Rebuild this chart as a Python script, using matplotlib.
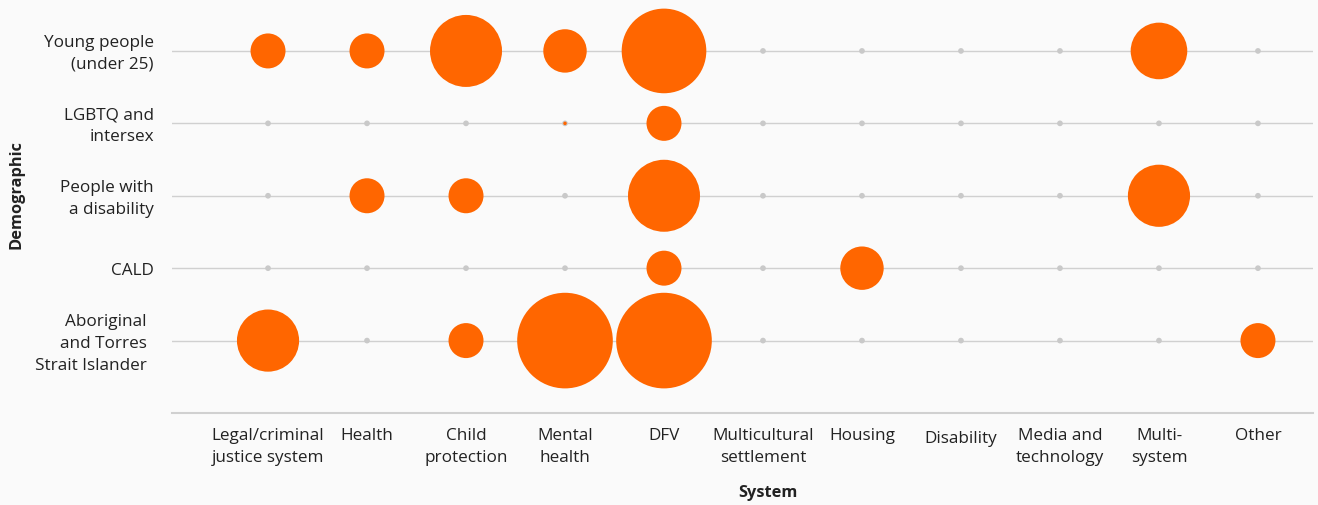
import numpy as np
import matplotlib
matplotlib.use("Agg")
import matplotlib.pyplot as plt
from matplotlib.transforms import ScaledTranslation

# ---- data ----
systems = ["Legal/criminal\njustice system", "Health", "Child\nprotection", "Mental\nhealth", "DFV",
           "Multicultural\nsettlement", "Housing", "Disability", "Media and\ntechnology", "Multi-\nsystem", "Other"]
demographics = ["Young people\n(under 25)", "LGBTQ and\nintersex", "People with\na disability", "CALD",
                "Aboriginal\nand Torres\nStrait Islander"]

young = [1, 1, 7, 2, 10, 0, 0, 0, 0, 4, 0]
lgbtq = [0, 0, 0, 0.01, 1, 0, 0, 0, 0, 0, 0]
disability = [0, 1, 1, 0, 7, 0, 0, 0, 0, 5, 0]
cald = [0, 0, 0, 0, 1, 0, 2, 0, 0, 0, 0]
aboriginal = [5, 0, 1, 13, 13, 0, 0, 0, 0, 0, 1]

ORANGE = "#ff6600"
BG = "#fafafa"
GRID = "#d0d0d0"
TEXT = "#222222"
FONT = "Open Sans"

plt.rcParams["font.family"] = [FONT, "DejaVu Sans"]


def bubble_size(values):
    # radius^2 (px) grows linearly with the value, converted to scatter area in pt^2
    v = np.asarray(values, dtype=float)
    r2 = np.interp(v, [0, 1, 13], [0, 306, 2286])
    r_pt = np.sqrt(r2) * 0.72
    return (2 * r_pt) ** 2


def nudge(label, dx_px, dy_px):
    label.set_transform(label.get_transform() + ScaledTranslation(dx_px / 100, dy_px / 100, fig.dpi_scale_trans))


rows = [young, lgbtq, disability, cald, aboriginal]

fig = plt.figure(figsize=(13.18, 5.06), dpi=100, facecolor=BG)
ax = fig.add_axes([172 / 1318, 1 - 414 / 506, (1313 - 172) / 1318, 412 / 506])
ax.set_facecolor(BG)

x = np.arange(len(systems))
for j in range(len(demographics)):
    ax.axhline(j, color=GRID, lw=1.0, zorder=1)
ax.axhline(len(demographics), color=GRID, lw=1.5, zorder=1, clip_on=False)

for j, vals in enumerate(rows):
    ax.scatter(x, [j] * len(x), s=17, color="#c9c9c9", edgecolors="none", zorder=2, clip_on=False)
    vals = np.asarray(vals, dtype=float)
    m = vals > 0
    ax.scatter(x[m], [j] * m.sum(), s=bubble_size(vals[m]), color=ORANGE, edgecolors="none",
               zorder=3, clip_on=False)

ax.set_xlim(-0.970, 10.556)
ax.set_ylim(5.0, -50 / 72.5)
for s in ax.spines.values():
    s.set_visible(False)

ax.set_xticks(x)
ax.set_xticklabels(systems, fontsize=12.3, color=TEXT, linespacing=1.5)
ax.set_yticks(range(len(demographics)))
ax.set_yticklabels(demographics, fontsize=12.3, color=TEXT, linespacing=1.5)
ax.tick_params(axis="x", length=0, pad=10)
ax.tick_params(axis="y", length=0, pad=13)
for lab in ax.get_yticklabels():
    lab.set_multialignment("right")

# small per-label nudges seen in the reference
ylabs = ax.get_yticklabels()
for i, lab in enumerate(ylabs):
    if "\n" in demographics[i]:
        nudge(lab, -7 if i == len(ylabs) - 1 else 0, 3)
xlabs = ax.get_xticklabels()
nudge(xlabs[7], 0, -3)

fig.text(768 / 1318, 1 - 493 / 506, "System", ha="center", va="center", fontsize=11.8,
         fontweight="bold", color=TEXT)
fig.text(17 / 1318, 1 - 195 / 506, "Demographic", ha="center", va="center", rotation=90,
         fontsize=11.8, fontweight="bold", color=TEXT)

fig.savefig("out.png", dpi=100, facecolor=BG)
